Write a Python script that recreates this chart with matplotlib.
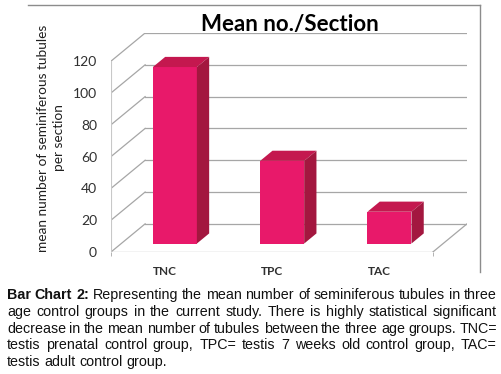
import numpy as np
import matplotlib.pyplot as plt
from matplotlib.lines import Line2D

groups = ['TNC', 'TPC', 'TAC']
means = [111, 52, 20]
y_ticks = [0, 20, 40, 60, 80, 100, 120]

title = 'Mean no./Section'
y_label = 'mean number of seminiferous tubules\nper section'
caption_lines = [
    'Bar Chart 2: Representing the mean number of seminiferous tubules in three',
    'age control groups in the current study. There is highly statistical significant',
    'decrease in the mean number of tubules between the three age groups. TNC=',
    'testis prenatal control group, TPC= testis 7 weeks old control group, TAC=',
    'testis adult control group.',
]

W, H = 502, 374
fig = plt.figure(figsize=(W / 100, H / 100), dpi=100)

# fake 3d: back wall is shifted by (ddx, ddy) in data units
ddx = 0.318
ddy = 17.7
n = len(groups)
y_top = max(y_ticks)
ax = fig.add_axes([111 / W, 1 - 252 / H, 356 / W, 219 / H])
ax.set_xlim(0, n + ddx)
ax.set_ylim(0, y_top + ddy)
for s in ax.spines.values():
    s.set_visible(False)

grid_c = '#a6a6a6'
for v in y_ticks:
    ax.plot([ddx, n + ddx], [v + ddy, v + ddy], color=grid_c, lw=0.9, zorder=1)
    ax.plot([0, ddx], [v, v + ddy], color=grid_c, lw=0.9, zorder=1)
# floor
ax.plot([0, n], [0, 0], color=grid_c, lw=0.9, zorder=1)
ax.plot([n, n + ddx], [0, ddy], color=grid_c, lw=0.9, zorder=1)
# front axis
ax.plot([0, 0], [0, y_top], color='#c8c8c8', lw=0.8, zorder=1)

front_c, top_c, side_c = '#e8196a', '#c4184f', '#a3173f'
d0, d1 = 0.3, 0.66
hw = 0.205
centers = np.arange(n) + 0.5
ax.bar(centers + d0 * ddx, means, width=2 * hw, bottom=d0 * ddy,
       color=front_c, zorder=3)
for c, v in zip(centers, means):
    xl, xr = c - hw, c + hw
    ax.fill([xl + d0 * ddx, xr + d0 * ddx, xr + d1 * ddx, xl + d1 * ddx],
            [d0 * ddy + v, d0 * ddy + v, d1 * ddy + v, d1 * ddy + v],
            color=top_c, lw=0, zorder=3)
    ax.fill([xr + d0 * ddx, xr + d1 * ddx, xr + d1 * ddx, xr + d0 * ddx],
            [d0 * ddy, d1 * ddy, d1 * ddy + v, d0 * ddy + v],
            color=side_c, lw=0, zorder=3)

ax.set_yticks(y_ticks)
ax.set_yticklabels([str(t) for t in y_ticks], fontsize=10, family='Lato',
                   color='#303030')
ax.tick_params(axis='y', length=0, pad=10)
ax.set_xticks(centers)
ax.set_xticklabels(groups, fontsize=8.5, family='Lato', weight='bold',
                   color='#303030')
ax.set_xticks([0, n], minor=True)
ax.tick_params(axis='x', which='major', length=0, pad=10)
ax.tick_params(axis='x', which='minor', length=3, color=grid_c)

fig.text(290 / W, 1 - 24 / H, title, fontsize=16, weight='bold',
         family='Lato', ha='center', va='center')
fig.text(51 / W, 1 - 138 / H, y_label, fontsize=9.8, family='Lato',
         rotation=90, ha='center', va='center', multialignment='center',
         linespacing=1.35, color='#202020')

# chart frame (partly cropped in the source)
fig.add_artist(Line2D([28 / W, 480 / W], [1 - 5 / H, 1 - 5 / H],
                      transform=fig.transFigure, color='#8c8c8c', lw=1))
fig.add_artist(Line2D([480 / W, 480 / W], [1 - 5 / H, 1 - 272 / H],
                      transform=fig.transFigure, color='#8c8c8c', lw=1))

# justified caption
renderer = fig.canvas.get_renderer()
x0, x1 = 7, 497
fs = 10.3
probe_a = fig.text(0, 0, 'a b', fontsize=fs, family='Liberation Sans')
probe_b = fig.text(0, 0, 'ab', fontsize=fs, family='Liberation Sans')
space_w = (probe_a.get_window_extent(renderer).width
           - probe_b.get_window_extent(renderer).width)
probe_a.remove()
probe_b.remove()
for k, line in enumerate(caption_lines):
    y = 1 - (295 + 16.8 * k) / H
    words = line.split(' ')
    texts = []
    for j, w in enumerate(words):
        bold = k == 0 and j < 3
        t = fig.text(0, y, w, fontsize=fs, family='Liberation Sans',
                     weight='bold' if bold else 'normal', va='center',
                     color='#111111')
        texts.append(t)
    widths = [t.get_window_extent(renderer).width for t in texts]
    if k < len(caption_lines) - 1:
        gap = (x1 - x0 - sum(widths)) / (len(words) - 1)
    else:
        gap = space_w
    x = x0
    for t, wd in zip(texts, widths):
        t.set_x(x / W)
        x += wd + gap

fig.savefig('out.png', dpi=100)
